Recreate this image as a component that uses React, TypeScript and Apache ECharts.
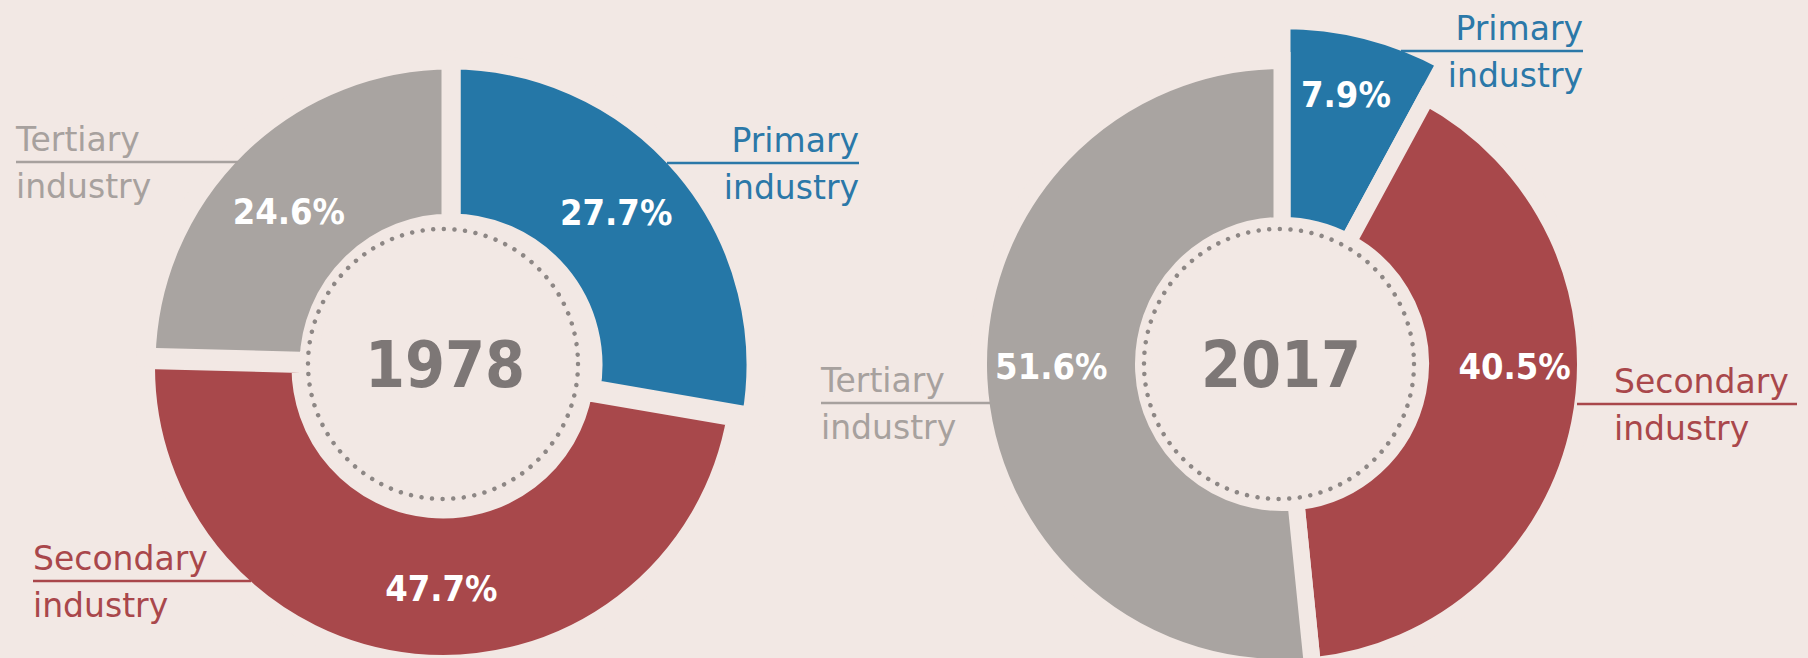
import React, { useEffect, useRef } from "react";
import * as echarts from "echarts";

// ---------- data ----------
const categories = ["Primary industry", "Secondary industry", "Tertiary industry"];
const years = ["1978", "2017"];
const share1978 = [27.7, 47.7, 24.6];
const share2017 = [7.9, 40.5, 51.6];

// ---------- styles ----------
const BG = "#f2e8e4";
const sliceColors = ["#2577a7", "#a8484b", "#a9a4a1"];
const labelColors = ["#2b78a8", "#a9474b", "#a7a19e"];
const condensed = "'DejaVu Sans Condensed', 'Liberation Sans Narrow', 'DejaVu Sans', sans-serif";
const regular = "'DejaVu Sans', 'Liberation Sans', sans-serif";

type Geo = { center: number[]; radius: number[]; border: number; dx: number; dy: number };

// per-slice geometry for each donut (order: primary, secondary, tertiary)
const geo1978: Geo[] = [
  { center: [451, 365], radius: [142, 305], border: 19, dx: -8, dy: -6 },
  { center: [443, 367], radius: [142, 297.5], border: 19, dx: 20, dy: 0 },
  { center: [451, 365], radius: [142, 305], border: 19, dx: -4, dy: 9 },
];
const geo2017: Geo[] = [
  { center: [1282, 364], radius: [138.5, 343.5], border: 17, dx: 4, dy: -33 },
  { center: [1282, 364], radius: [138.5, 303.5], border: 17, dx: 13, dy: -42 },
  { center: [1282, 364], radius: [138.5, 303.5], border: 17, dx: -7, dy: -9 },
];

type Ext = { idx: number; align: "left" | "right"; textX: number; x1: number; x2: number; lineY: number };
const ext1978: Ext[] = [
  { idx: 2, align: "left", textX: 16, x1: 16, x2: 238, lineY: 162 },
  { idx: 0, align: "right", textX: 859, x1: 667, x2: 859, lineY: 163 },
  { idx: 1, align: "left", textX: 33, x1: 33, x2: 251, lineY: 581 },
];
const ext2017: Ext[] = [
  { idx: 2, align: "left", textX: 821, x1: 821, x2: 990, lineY: 403 },
  { idx: 0, align: "right", textX: 1583, x1: 1401, x2: 1583, lineY: 51 },
  { idx: 1, align: "left", textX: 1614, x1: 1577, x2: 1797, lineY: 404 },
];

const centers1978 = [443, 364];
const centers2017 = [1279, 364];

function sliceSeries(values: number[], idx: number, g: Geo) {
  return {
    type: "pie",
    center: g.center,
    radius: g.radius,
    startAngle: 90,
    clockwise: true,
    silent: true,
    avoidLabelOverlap: false,
    emphasis: { disabled: true },
    labelLine: { show: false },
    labelLayout: { dx: g.dx, dy: g.dy },
    label: { show: false },
    data: categories.map((name, i) => ({
      name,
      value: values[i],
      itemStyle:
        i === idx
          ? { color: sliceColors[i], borderColor: BG, borderWidth: g.border, borderJoin: "miter" }
          : { color: "rgba(0,0,0,0)", borderWidth: 0 },
      label:
        i === idx
          ? {
              show: true,
              position: "inside",
              formatter: "{c}%",
              color: "#ffffff",
              fontSize: 36,
              fontWeight: "bold",
              fontFamily: condensed,
            }
          : { show: false },
    })),
  };
}

function extLabels(list: Ext[]) {
  const out: any[] = [];
  list.forEach((e) => {
    const [l1, l2] = categories[e.idx].split(" ");
    const color = labelColors[e.idx];
    out.push({
      type: "line",
      z: 20,
      shape: { x1: e.x1, y1: e.lineY, x2: e.x2, y2: e.lineY },
      style: { stroke: color, lineWidth: 2.5 },
      silent: true,
    });
    out.push({
      type: "text",
      z: 20,
      style: {
        text: l1,
        x: e.textX,
        y: e.lineY - 23,
        fill: color,
        fontSize: 33,
        fontFamily: regular,
        textAlign: e.align,
        textVerticalAlign: "middle",
      },
      silent: true,
    });
    out.push({
      type: "text",
      z: 20,
      style: {
        text: l2,
        x: e.textX,
        y: e.lineY + 24,
        fill: color,
        fontSize: 33,
        fontFamily: regular,
        textAlign: e.align,
        textVerticalAlign: "middle",
      },
      silent: true,
    });
  });
  return out;
}

function centerDecor(c: number[], year: string) {
  return [
    {
      type: "circle",
      z: 20,
      shape: { cx: c[0], cy: c[1], r: 135 },
      style: {
        fill: "none",
        stroke: "#8d8785",
        lineWidth: 4.5,
        lineDash: [0.01, 10.6],
        lineCap: "round",
      },
      silent: true,
    },
    {
      type: "text",
      z: 20,
      style: {
        text: year,
        x: c[0] + 2,
        y: c[1] + 1,
        fill: "#7d7776",
        fontSize: 64,
        fontWeight: "bold",
        fontFamily: condensed,
        textAlign: "center",
        textVerticalAlign: "middle",
      },
      silent: true,
    },
  ];
}

export default function App() {
  const ref = useRef<HTMLDivElement>(null);
  useEffect(() => {
    document.body.style.margin = "0";
    document.body.style.background = BG;
    const chart = echarts.init(ref.current!, null, { renderer: "svg" });
    const series: any[] = [];
    geo1978.forEach((g, i) => series.push(sliceSeries(share1978, i, g)));
    geo2017.forEach((g, i) => series.push(sliceSeries(share2017, i, g)));
    chart.setOption({
      animation: false,
      backgroundColor: BG,
      series,
      graphic: {
        elements: [
          ...centerDecor(centers1978, years[0]),
          ...centerDecor(centers2017, years[1]),
          ...extLabels(ext1978),
          ...extLabels(ext2017),
        ],
      },
    });
    return () => chart.dispose();
  }, []);
  return (
    <div
      ref={ref}
      style={{ position: "fixed", left: 0, top: 0, width: 1808, height: 658, background: BG }}
    />
  );
}
